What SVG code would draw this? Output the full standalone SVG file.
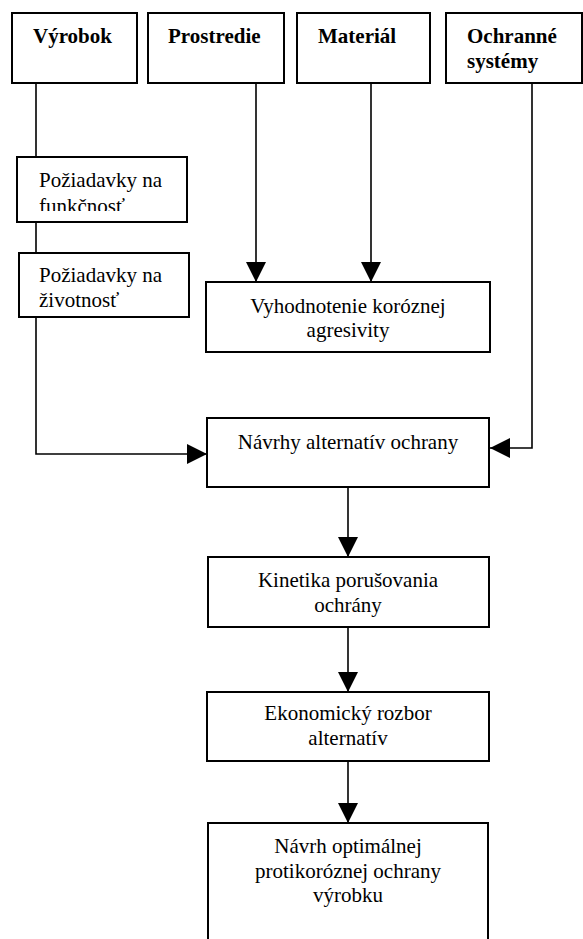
<svg xmlns="http://www.w3.org/2000/svg" width="583" height="939" viewBox="0 0 583 939">
<style>
.box{fill:#fff;stroke:#000;stroke-width:2}
.t{font-family:"Liberation Serif","Times New Roman",serif;font-size:21px;fill:#000}
.b{font-weight:bold}
.c{text-anchor:middle}
.ln{fill:none;stroke:#000;stroke-width:1.6}
</style>
<defs>
<marker id="ah" viewBox="0 0 20 20" refX="20" refY="10" markerWidth="20" markerHeight="20" markerUnits="userSpaceOnUse" orient="auto">
<path d="M0,0 L20,10 L0,20 Z" fill="#000"/>
</marker>
<clipPath id="clipF"><rect x="17" y="157" width="170" height="54"/></clipPath>
</defs>
<rect width="583" height="939" fill="#fff"/>
<g id="connectors">
<path class="ln" d="M36,83 V157 M36,222 V253"/>
<path class="ln" d="M36,317 V454 H207" marker-end="url(#ah)"/>
<path class="ln" d="M256,83 V282" marker-end="url(#ah)"/>
<path class="ln" d="M371,83 V282" marker-end="url(#ah)"/>
<path class="ln" d="M532,83 V448 H490" marker-end="url(#ah)"/>
<path class="ln" d="M348,487 V557" marker-end="url(#ah)"/>
<path class="ln" d="M348,627 V692" marker-end="url(#ah)"/>
<path class="ln" d="M348,761 V823" marker-end="url(#ah)"/>
</g>
<g id="vyrobok">
<rect class="box" x="12" y="13" width="125" height="70"/>
<text class="t b" x="33" y="43">Výrobok</text>
</g>
<g id="prostredie">
<rect class="box" x="148" y="13" width="136" height="70"/>
<text class="t b" x="168" y="43">Prostredie</text>
</g>
<g id="material">
<rect class="box" x="297" y="13" width="133" height="70"/>
<text class="t b" x="318" y="43">Materiál</text>
</g>
<g id="ochranne">
<rect class="box" x="446" y="13" width="136" height="70"/>
<text class="t b" x="467" y="43">Ochranné</text>
<text class="t b" x="467" y="68">systémy</text>
</g>
<g id="funkcnost">
<rect class="box" x="17" y="157" width="170" height="65"/>
<g clip-path="url(#clipF)">
<text class="t" x="39" y="187">Požiadavky na</text>
<text class="t" x="39" y="213">funkčnosť</text>
</g>
</g>
<g id="zivotnost">
<rect class="box" x="19" y="253" width="170" height="64"/>
<text class="t" x="39" y="282">Požiadavky na</text>
<text class="t" x="39" y="307">životnosť</text>
</g>
<g id="vyhodnotenie">
<rect class="box" x="206" y="282" width="284" height="70"/>
<text class="t c" x="348" y="313">Vyhodnotenie koróznej</text>
<text class="t c" x="348" y="337">agresivity</text>
</g>
<g id="navrhy">
<rect class="box" x="207" y="418" width="282" height="69"/>
<text class="t c" x="348" y="449">Návrhy alternatív ochrany</text>
</g>
<g id="kinetika">
<rect class="box" x="208" y="557" width="281" height="70"/>
<text class="t c" x="348" y="587">Kinetika porušovania</text>
<text class="t c" x="348" y="612">ochrány</text>
</g>
<g id="ekonomicky">
<rect class="box" x="207" y="692" width="282" height="69"/>
<text class="t c" x="348" y="720">Ekonomický rozbor</text>
<text class="t c" x="348" y="745">alternatív</text>
</g>
<g id="navrh">
<rect class="box" x="208" y="823" width="280" height="130"/>
<text class="t c" x="348" y="853">Návrh optimálnej</text>
<text class="t c" x="348" y="878">protikoróznej ochrany</text>
<text class="t c" x="348" y="902">výrobku</text>
</g>
</svg>
